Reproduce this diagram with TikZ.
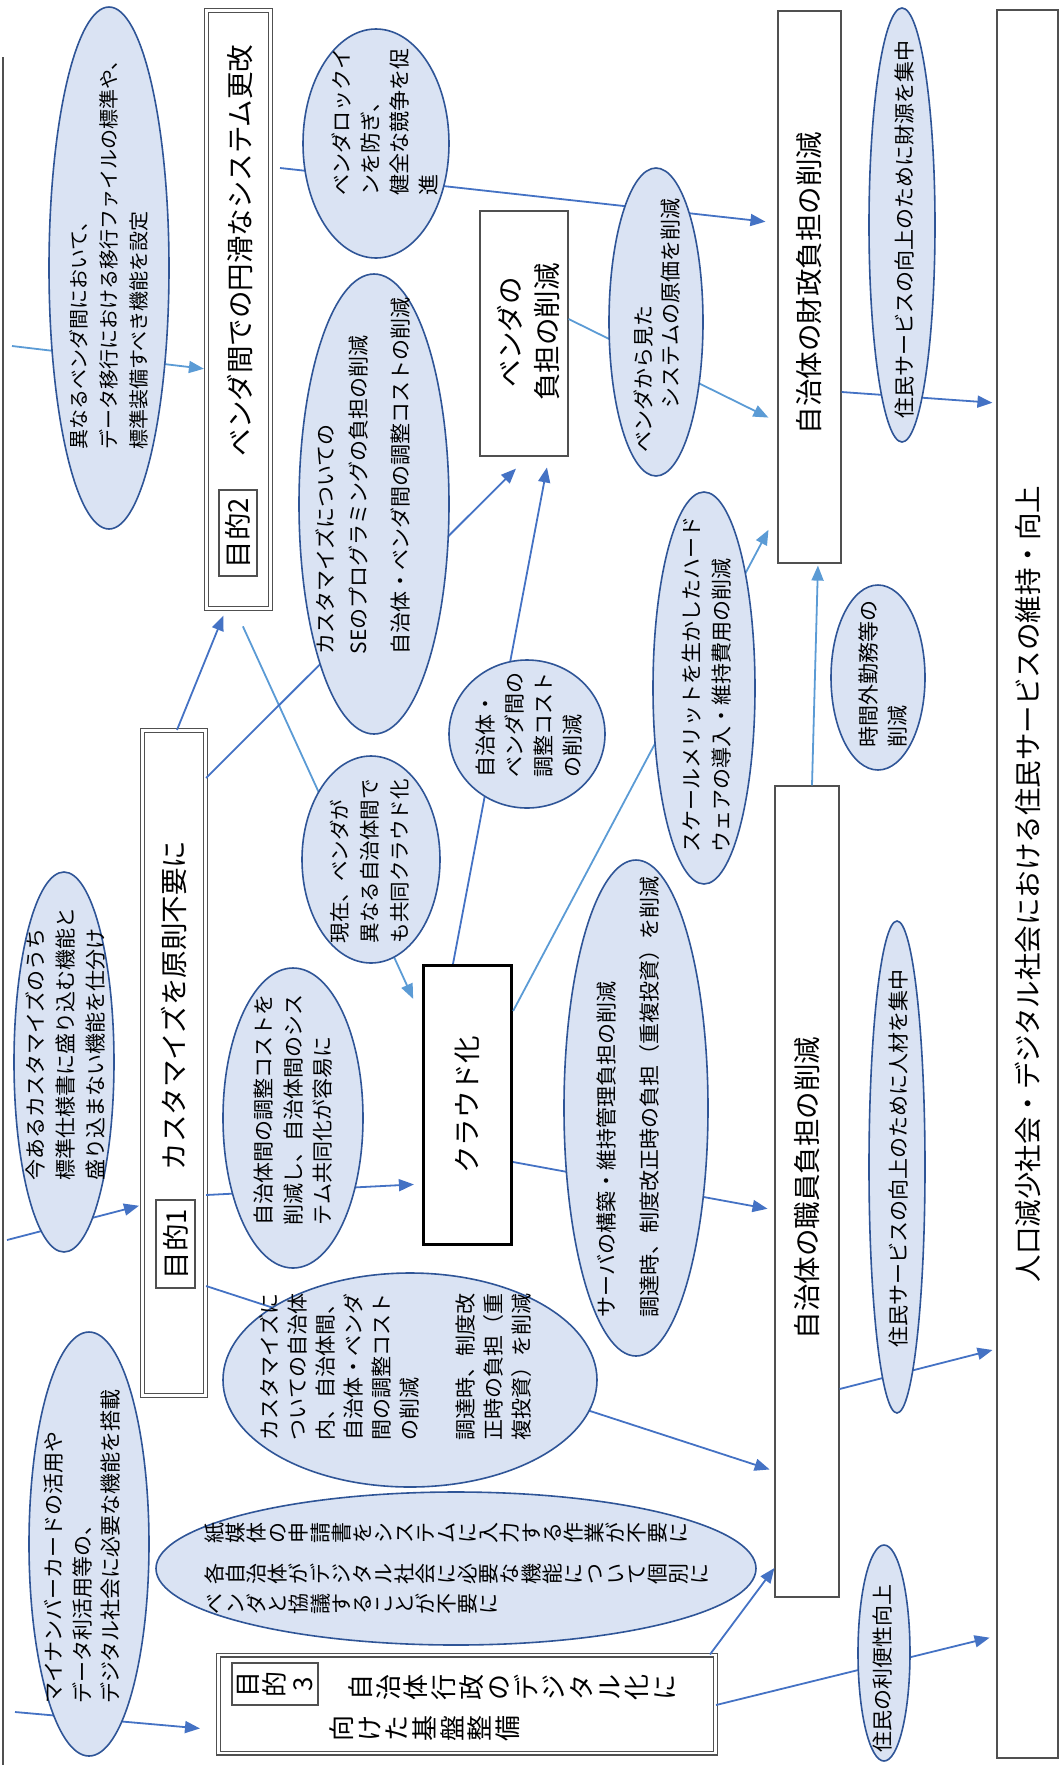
\documentclass[tikz,border=0pt]{standalone}
\usepackage{fontspec}
\setmainfont{Noto Sans CJK JP}
\usetikzlibrary{arrows.meta,shapes.geometric}
\definecolor{ellfill}{HTML}{DAE3F3}
\definecolor{elldraw}{HTML}{2F5597}
\definecolor{lineA}{HTML}{4472C4}
\definecolor{lineB}{HTML}{5B9BD5}
\definecolor{boxgray}{HTML}{505050}
\newcommand\efs[2]{\fontsize{#1}{#2}\selectfont}
\begin{document}
\begin{tikzpicture}[x=1pt,y=-1pt,
  ell/.style={ellipse,draw=elldraw,fill=ellfill,line width=1.6pt,inner sep=0pt},
  etxt/.style={rotate=90,align=left,inner sep=0pt,font=\efs{21}{29.5}},
  bx/.style={rectangle,draw=boxgray,line width=1.2pt,fill=white,inner sep=0pt},
  dbx/.style={rectangle,draw=boxgray,double=white,double distance=2.6pt,line width=1.2pt,inner sep=0pt,fill=white},
  btxt/.style={rotate=90,align=center,inner sep=0pt,font=\efs{27.5}{37}},
  tchS/.style={rotate=90,inner sep=0pt,font=\efs{21}{21},text height=18.5pt,text depth=2.5pt},
  tchL/.style={rotate=90,inner sep=0pt,font=\efs{26}{26},text height=22.9pt,text depth=3.1pt},
  lnA/.style={draw=lineA,line width=1.8pt,-{Triangle[length=15pt,width=12pt]}},
  lnB/.style={draw=lineB,line width=1.8pt,-{Triangle[length=15pt,width=12pt]}}]
\useasboundingbox (0,0) rectangle (1061,1765);

% frame line at left
\coordinate (fr1) at (3,57);
\coordinate (fr2) at (3,1765);
\draw[boxgray,line width=1.2pt] (fr1) -- (fr2);

% boxes
\node[bx,minimum width=61pt,minimum height=1748pt] (goal) at (1027.5,884) {};
\node[bx,minimum width=63pt,minimum height=552pt] (fin) at (809.5,287) {};
\node[bx,minimum width=64pt,minimum height=811pt] (staff) at (807,1191.5) {};
\node[rectangle,draw=black,line width=3.2pt,fill=white,inner sep=0pt,minimum width=88pt,minimum height=279pt] (cloud) at (467.5,1105) {};
\node[bx,minimum width=88pt,minimum height=245pt] (vendor) at (524,333.5) {};
\node[dbx,minimum width=63pt,minimum height=665pt] (obj1) at (174,1063) {};
\node[dbx,minimum width=64pt,minimum height=598pt] (obj2) at (238.5,309.5) {};
\node[dbx,minimum width=497pt,minimum height=98pt] (obj3) at (467,1704) {};

% free ends
\coordinate (s1) at (12,346);
\coordinate (s17) at (15,1712);
\coordinate (s18) at (7,1240);

% connectors
\draw[lnB,shorten >=2pt] (s1) -- (obj2.west |- 0,369);
\draw[lnA,shorten <=9pt,shorten >=12pt] (obj2.east |- 0,167) -- (fin.west |- 0,223);
\draw[lnA,shorten >=7pt] (obj1.north -| 177,0) -- (obj2.south -| 226,0);
\draw[lnB,shorten <=19pt,shorten >=21pt] (obj2.south -| 235,0) -- (cloud.west |- 0,1018);
\draw[lnA,shorten >=17pt] (obj1.east |- 0,778) -- (vendor.south -| 528,0);
\draw[lnA,shorten >=11pt] (cloud.north -| 453,0) -- (vendor.south -| 549,0);
\draw[lnB,shorten >=10pt] (vendor.east |- 0,319) -- (fin.west |- 0,422);
\draw[lnA,shorten >=4pt] (fin.east |- 0,392) -- (goal.west |- 0,403);
\draw[lnB,shorten >=19pt] (cloud.east |- 0,1011) -- (fin.west |- 0,513);
\draw[lnB,shorten >=2pt] (staff.north -| 812,0) -- (fin.south -| 818,0);
\draw[lnA,shorten >=8pt] (obj1.east |- 0,1195) -- (cloud.west |- 0,1184);
\draw[lnA,shorten >=5pt] (obj1.east |- 0,1286) -- (staff.west |- 0,1471);
\draw[lnA,shorten >=7pt] (cloud.east |- 0,1162) -- (staff.west |- 0,1210);
\draw[lnA] (obj3.north -| 710,0) -- (staff.west |- 0,1568);
\draw[lnA,shorten >=7pt] (obj3.east |- 0,1705) -- (goal.west |- 0,1636);
\draw[lnA,shorten >=4pt] (staff.east |- 0,1389) -- (goal.west |- 0,1349);
\draw[lnA,shorten >=18pt] (s17) -- (obj3.west |- 0,1730);
\draw[lnA,shorten >=3pt] (s18) -- (obj1.west |- 0,1205);

% ellipses
\node[ell,minimum width=120pt,minimum height=522pt] (e1) at (109,268) {};
\node[ell,minimum width=146pt,minimum height=229pt] (e2) at (376,143.5) {};
\node[ell,minimum width=150pt,minimum height=460pt] (e3) at (374,504) {};
\node[ell,minimum width=138pt,minimum height=207pt] (e4) at (371,859.5) {};
\node[ell,minimum width=156pt,minimum height=148pt] (e5) at (527,734) {};
\node[ell,minimum width=102pt,minimum height=392pt] (e6) at (704,688) {};
\node[ell,minimum width=94pt,minimum height=308pt] (e7) at (656,322) {};
\node[ell,minimum width=66pt,minimum height=434pt] (e8) at (902,225) {};
\node[ell,minimum width=94pt,minimum height=185pt] (e9) at (878,677.5) {};
\node[ell,minimum width=56pt,minimum height=492pt] (e10) at (897,1167) {};
\node[ell,minimum width=52pt,minimum height=216pt] (e11) at (884,1653) {};
\node[ell,minimum width=144pt,minimum height=496pt] (e12) at (636,1108) {};
\node[ell,minimum width=140pt,minimum height=300pt] (e13) at (293,1118) {};
\node[ell,minimum width=100pt,minimum height=380pt] (e14) at (64,1062) {};
\node[ell,minimum width=120pt,minimum height=424pt] (e15) at (89,1544) {};
\node[ell,minimum width=374pt,minimum height=214pt] (e16) at (410,1380) {};
\node[ell,minimum width=600pt,minimum height=153pt] (e17) at (456,1568.5) {};

% ellipse texts
\node[etxt,font=\efs{20}{30}] (t1) at (109,250) {異なるベンダ間において、\\データ移行における移行ファイルの標準や、\\標準装備すべき機能を設定};
\node[etxt,font=\efs{21}{29}] (t2) at (384.5,121.5) {ベンダロックイ\\ンを防ぎ、\\健全な競争を促\\進};
\node[etxt,font=\efs{21}{32.5}] (t3) at (363,475.5) {カスタマイズについての\\SEのプログラミングの負担の削減\\[9.5pt]自治体・ベンダ間の調整コストの削減};
\node[etxt,font=\efs{20.5}{30}] (t4) at (370,861) {現在、ベンダが\\異なる自治体間で\\も共同クラウド化};
\node[etxt,font=\efs{21}{29}] (t5) at (529.5,724.5) {自治体・\\ベンダ間の\\調整コスト\\の削減};
\node[etxt,font=\efs{21}{30}] (t6) at (707,684) {スケールメリットを生かしたハード\\ウェアの導入・維持費用の削減};
\node[etxt,font=\efs{21}{27}] (t7) at (656.5,325.5) {ベンダから見た\\\hspace*{2.1em}システムの原価を削減};
\node[etxt] (t8) at (905,229.5) {住民サービスの向上のために財源を集中};
\node[etxt,font=\efs{21}{29}] (t9) at (882.5,673.5) {時間外勤務等の\\削減};
\node[etxt] (t10) at (898,1158.5) {住民サービスの向上のために人材を集中};
\node[etxt] (t11) at (883,1668) {住民の利便性向上};
\node[etxt] (t12) at (628.5,1096.5) {サーバの構築・維持管理負担の削減\\[13.5pt]調達時、制度改正時の負担（重複投資）を削減};
\node[etxt] (t13) at (293.5,1109.5) {自治体間の調整コストを\\削減し、自治体間のシス\\テム共同化が容易に};
\node[etxt,font=\efs{21}{30}] (t14) at (65,1043.5) {今あるカスタマイズのうち\\標準仕様書に盛り込む機能と\\盛り込まない機能を仕分け};
\node[etxt,font=\efs{21}{28.5}] (t15) at (82.5,1546.5) {マイナンバーカードの活用や\\データ利活用等の、\\デジタル社会に必要な機能を搭載};
\node[etxt,font=\efs{21}{28}] (t16) at (396,1366.5) {カスタマイズに\\ついての自治体\\内、自治体間、\\自治体・ベンダ\\間の調整コスト\\の削減\\[28pt]調達時、制度改\\正時の負担（重\\複投資）を削減};

% vertical-writing ellipse text
\foreach \c [count=\i from 0] in {紙,媒,体,の,申,請,書,を,シ,ス,テ,ム,に,入,力,す,る,作,業,が,不,要,に}
  \node[tchS] (ka\i) at ({214.5+21.1*\i},1533) {\c};
\foreach \c [count=\i from 0] in {各,自,治,体,が,デ,ジ,タ,ル,社,会,に,必,要,な,機,能,に,つ,い,て,個,別,に}
  \node[tchS] (kb\i) at ({214.5+21.1*\i},1574) {\c};
\foreach \c [count=\i from 0] in {ベ,ン,ダ,と,協,議,す,る,こ,と,が,不,要,に}
  \node[tchS] (kc\i) at ({214.5+21.1*\i},1604) {\c};

% box texts
\node[btxt] (goalt) at (1027.5,884) {人口減少社会・デジタル社会における住民サービスの維持・向上};
\node[btxt] (fint) at (809.5,283) {自治体の財政負担の削減};
\node[btxt] (stafft) at (807,1188) {自治体の職員負担の削減};
\node[btxt] (cloudt) at (467.5,1105) {クラウド化};
\node[btxt] (vendort) at (528.5,332) {ベンダの\\負担の削減};
\node[btxt] (obj1t) at (174,1005.5) {カスタマイズを原則不要に};
\node[btxt] (obj2t) at (240,250.5) {ベンダ間での円滑なシステム更改};
\node[bx,rotate=90,minimum width=88pt,minimum height=39pt,font=\efs{27.5}{30}] (lab1) at (175.5,1244) {目的1};
\node[bx,rotate=90,minimum width=86pt,minimum height=38pt,font=\efs{27.5}{30}] (lab2) at (238,533) {目的2};

% objective 3 (vertical writing)
\node[bx,minimum width=86pt,minimum height=42pt] (lab3) at (275,1684) {};
\foreach \c [count=\i from 0] in {目,的,3}
  \node[tchL] (la\i) at ({247.5+27.5*\i},1684) {\c};
\foreach \c [count=\i from 0] in {自,治,体,行,政,の,デ,ジ,タ,ル,化,に}
  \node[tchL] (ta\i) at ({360.8+27.6*\i},1687) {\c};
\foreach \c [count=\i from 0] in {向,け,た,基,盤,整,備}
  \node[tchL] (tb\i) at ({341.8+27.6*\i},1728) {\c};
\end{tikzpicture}
\end{document}
